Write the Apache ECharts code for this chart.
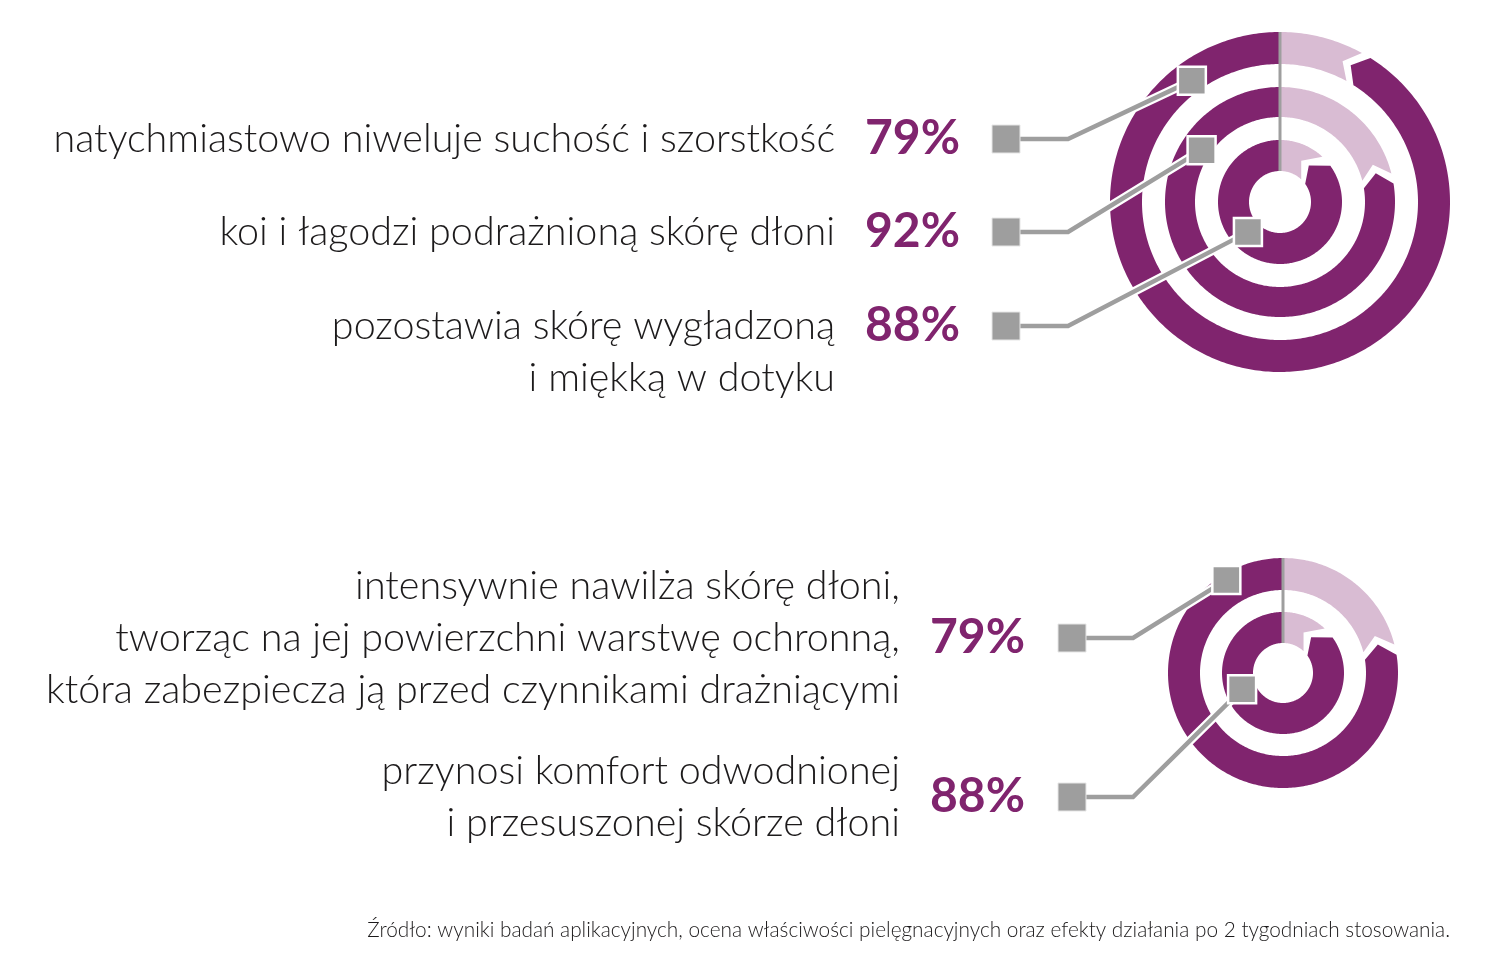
<!DOCTYPE html>
<html>
<head>
<meta charset="utf-8">
<script src="https://cdn.jsdelivr.net/npm/echarts@6/dist/echarts.min.js"></script>
<style>
html,body{margin:0;background:#fff}
#chart{width:1500px;height:980px}
</style>
</head>
<body>
<div id="chart"></div>
<script>
/** górny wykres */
let topLabels = ["natychmiastowo niweluje suchość i szorstkość","koi i łagodzi podrażnioną skórę dłoni","pozostawia skórę wygładzoną\ni miękką w dotyku"]
let topPercents = [79,92,88]
let topRings = [92,79,88]   // pierścienie od zewnętrznego, tak jak są narysowane
/** dolny wykres */
let bottomLabels = ["intensywnie nawilża skórę dłoni,\ntworząc na jej powierzchni warstwę ochronną,\nktóra zabezpiecza ją przed czynnikami drażniącymi","przynosi komfort odwodnionej\ni przesuszonej skórze dłoni"]
let bottomPercents = [79,88]
let bottomRings = [79,88]
let source = "Źródło: wyniki badań aplikacyjnych, ocena właściwości pielęgnacyjnych oraz efekty działania po 2 tygodniach stosowania."

const DARK = "#80246e", LIGHT = "#d9bcd3", GRAY = "#9e9e9e", TEXT = "#1c1a1b"
const FONT = "Lato", LINE = 52, GAP = 9, DEPTH = 13

let layout = {
    top:{center:[1280,202],radius:170,rings:[[138,170],[85,115],[31,62]],rows:[139,232,326],
        textX:835,pctX:960,boxX:1006,elbowX:1068,anchors:[[150,90],[94,84.3],[44,63]],valign:"top"},
    bottom:{center:[1283,673],radius:115,rings:[[83,115],[30,61]],rows:[638,797],
        textX:900,pctX:1025,boxX:1072,elbowX:1133,anchors:[[109,91.3],[44,69]],valign:"middle"}
}

let chart = echarts.init(document.getElementById("chart"))

/*************************pierścień z grotem************************/
function ringItem(L){
    return (params,api)=>{
        let [r0,r1] = L.rings[params.dataIndex]
        let rm = (r0+r1)/2
        let toPct = px=>px/(2*Math.PI*rm)*100
        let aL = 100-api.value(0)
        let aD = aL+toPct(GAP)
        let depth = toPct(DEPTH)
        let p = (r,a)=>api.coord([r,a])
        let arc = (r,from,to)=>{
            let pts = []
            let n = Math.max(2,Math.ceil(Math.abs(to-from)/0.25))
            for(let i=0;i<=n;i++) pts.push(p(r,from+(to-from)*i/n))
            return pts
        }
        let light = arc(r1,0,aL).concat([p(rm,aL-depth)],arc(r0,aL,0))
        let dark = arc(r1,aD,100).concat(arc(r0,100,aD),[p(rm,aD-depth)])
        let children = [
            {type:"polygon",shape:{points:light},style:{fill:LIGHT}},
            {type:"polygon",shape:{points:dark},style:{fill:DARK}}
        ]
        if(params.dataIndex==0){
            let rMin = L.rings[L.rings.length-1][0], rMax = L.rings[0][1]
            let a = p(rMin,0), b = p(rMax,0)
            children.push({type:"line",z2:5,shape:{x1:a[0],y1:a[1],x2:b[0],y2:b[1]},style:{stroke:GRAY,lineWidth:3}})
        }
        return {type:"group",children:children}
    }
}
/*************************linie odniesienia************************/
function leaderItem(L){
    return (params,api)=>{
        let i = params.dataIndex
        let y = L.rows[i]
        let a = api.coord(L.anchors[i])
        let pts = [[L.boxX,y],[L.elbowX,y],a]
        return {type:"group",children:[
            {type:"polyline",shape:{points:pts},style:{stroke:"#fff",lineWidth:9,fill:null}},
            {type:"polyline",shape:{points:pts},style:{stroke:GRAY,lineWidth:4.5,fill:null}},
            {type:"rect",shape:{x:L.boxX-14,y:y-14,width:28,height:28},style:{fill:GRAY,stroke:"#e6e6e6",lineWidth:1}},
            {type:"rect",shape:{x:a[0]-14,y:a[1]-14,width:28,height:28},style:{fill:GRAY,stroke:"#fff",lineWidth:2.5}}
        ]}
    }
}

let polar = [], angleAxis = [], radiusAxis = [], series = [], graphic = []
function addChart(L,rings,labels,percents){
    let idx = polar.length
    polar.push({center:L.center,radius:L.radius})
    angleAxis.push({polarIndex:idx,type:"value",min:0,max:100,startAngle:90,clockwise:true,show:false})
    radiusAxis.push({polarIndex:idx,type:"value",min:0,max:L.radius,show:false})
    series.push({type:"custom",coordinateSystem:"polar",polarIndex:idx,z:2,silent:true,renderItem:ringItem(L),data:rings})
    series.push({type:"custom",coordinateSystem:"polar",polarIndex:idx,z:3,silent:true,renderItem:leaderItem(L),data:percents})
    labels.forEach((t,i)=>{
        graphic.push({type:"text",x:L.textX,y:L.valign=="top"?L.rows[i]-LINE/2:L.rows[i],silent:true,
            style:{text:t,align:"right",verticalAlign:L.valign,fontFamily:FONT,fontWeight:300,fontSize:39.5,lineHeight:LINE,fill:TEXT}})
        graphic.push({type:"text",x:L.pctX,y:L.rows[i],silent:true,
            style:{text:percents[i]+"%",align:"right",verticalAlign:"middle",fontFamily:FONT,fontWeight:"bold",fontSize:48,fill:DARK}})
    })
}
addChart(layout.top,topRings,topLabels,topPercents)
addChart(layout.bottom,bottomRings,bottomLabels,bottomPercents)
graphic.push({type:"text",x:1450,y:930,silent:true,
    style:{text:source,align:"right",verticalAlign:"middle",fontFamily:FONT,fontWeight:300,fontSize:20.8,fill:TEXT}})

chart.setOption({
    backgroundColor:"#fff",
    animation:false,
    polar:polar,
    angleAxis:angleAxis,
    radiusAxis:radiusAxis,
    series:series,
    graphic:graphic
})
</script>
</body>
</html>
